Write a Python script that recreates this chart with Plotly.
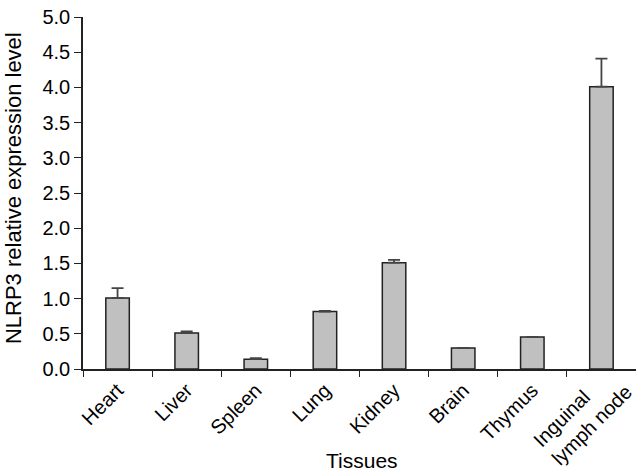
import plotly.graph_objects as go

tissues = ["Heart", "Liver", "Spleen", "Lung", "Kidney", "Brain", "Thymus", "Inguinal<br>lymph node"]
expression = [1.01, 0.51, 0.14, 0.815, 1.51, 0.30, 0.455, 4.01]
error_upper = [0.14, 0.025, 0.015, 0.012, 0.04, 0.0, 0.0, 0.40]

y_ticks = [0.0, 0.5, 1.0, 1.5, 2.0, 2.5, 3.0, 3.5, 4.0, 4.5, 5.0]
y_tick_labels = [f"{v:.1f}" for v in y_ticks]

x_title = "Tissues"
y_title = "NLRP3 relative expression level"

font_family = "Liberation Sans, Arial, sans-serif"
tick_fs = 20
title_fs = 22

fig = go.Figure(
    go.Bar(
        x=tissues,
        y=expression,
        width=0.34,
        marker=dict(color="#c0c0c0", line=dict(color="#222222", width=1.5)),
        error_y=dict(
            type="data",
            symmetric=False,
            array=error_upper,
            arrayminus=[0] * len(error_upper),
            color="#444444",
            thickness=1.8,
            width=6,
        ),
    )
)

fig.update_layout(
    width=636,
    height=473,
    margin=dict(l=83, r=0, t=17, b=104, autoexpand=False),
    paper_bgcolor="white",
    plot_bgcolor="white",
    showlegend=False,
    font=dict(family=font_family, size=tick_fs, color="black"),
)

# last (two-line) label is drawn as a left-aligned rotated annotation below
x_tick_text = tissues[:-1] + [""]

fig.update_xaxes(
    type="category",
    range=[-0.5, 7.5],
    tickvals=tissues,
    ticktext=x_tick_text,
    tickson="boundaries",
    ticks="outside",
    ticklen=6,
    tickwidth=1.2,
    tickcolor="#222222",
    tickangle=-45,
    showline=True,
    linecolor="#222222",
    linewidth=1.5,
    showgrid=False,
    zeroline=False,
    automargin=False,
    tickfont=dict(size=tick_fs),
)

fig.update_yaxes(
    range=[0, 5.0],
    tickvals=y_ticks,
    ticktext=y_tick_labels,
    ticks="outside",
    ticklen=7,
    tickwidth=1.2,
    tickcolor="#222222",
    showline=True,
    linecolor="#222222",
    linewidth=1.5,
    showgrid=False,
    zeroline=False,
    automargin=False,
    tickfont=dict(size=tick_fs),
)

fig.add_annotation(
    text=tissues[-1], xref="x", yref="paper", x=tissues[-1], y=0,
    xanchor="center", yanchor="middle", xshift=-19, yshift=-47,
    textangle=-45, align="left", showarrow=False,
    font=dict(size=tick_fs),
)
fig.add_annotation(
    text=x_title, xref="paper", yref="paper", x=0.504, y=0,
    xanchor="center", yanchor="middle", yshift=-91, showarrow=False,
    font=dict(size=title_fs - 1),
)
fig.add_annotation(
    text=y_title, xref="paper", yref="paper", x=0, y=0.514,
    xanchor="center", yanchor="middle", xshift=-70, textangle=-90, showarrow=False,
    font=dict(size=title_fs),
)

fig.write_html(
    "out.html",
    config={"displayModeBar": False},
    post_script="document.body.style.margin='0';",
)
